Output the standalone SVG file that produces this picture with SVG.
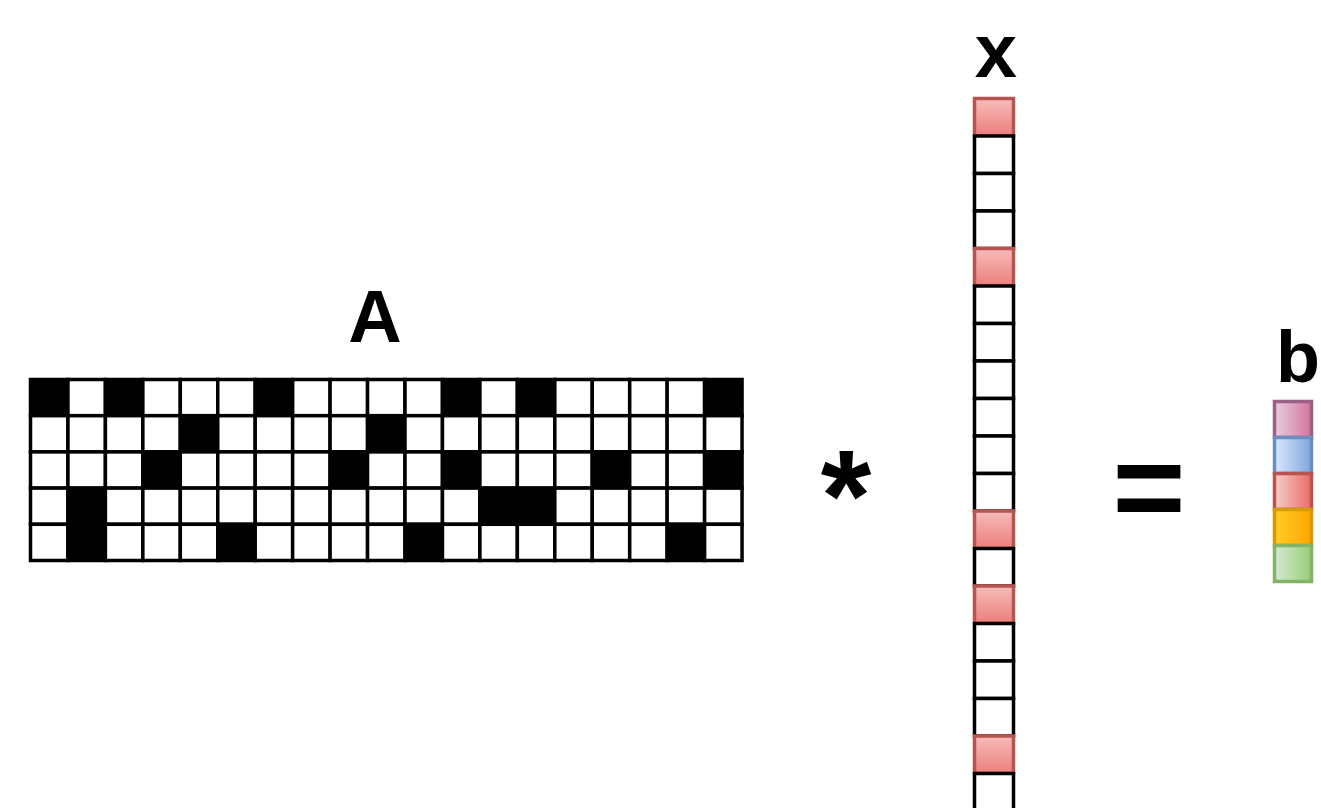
<svg xmlns="http://www.w3.org/2000/svg" width="1321" height="808" viewBox="0 0 1321 808">
<defs>
<style>
.w{fill:#fff;stroke:#000;stroke-width:3.5}
.k{fill:#000;stroke:#000;stroke-width:3.5}
.r{fill:url(#gr);stroke:#b85450;stroke-width:3.5}
.lbl{font-family:"Liberation Sans",Arial,Helvetica,sans-serif;font-weight:bold;fill:#000;text-anchor:middle}
</style>
<linearGradient id="gr" x1="0" y1="0" x2="0" y2="1"><stop offset="0" stop-color="#f6bcba"/><stop offset="1" stop-color="#ec7f7c"/></linearGradient>
<linearGradient id="gp" x1="0" y1="0" x2="1" y2="0"><stop offset="0" stop-color="#e6d0de"/><stop offset="1" stop-color="#d5739d"/></linearGradient>
<linearGradient id="gb" x1="0" y1="0" x2="1" y2="0"><stop offset="0" stop-color="#dae8fc"/><stop offset="1" stop-color="#7ea6e0"/></linearGradient>
<linearGradient id="grr" x1="0" y1="0" x2="1" y2="0"><stop offset="0" stop-color="#f8cecc"/><stop offset="1" stop-color="#ea6b66"/></linearGradient>
<linearGradient id="go" x1="0" y1="0" x2="1" y2="0"><stop offset="0" stop-color="#ffcd28"/><stop offset="1" stop-color="#ffa500"/></linearGradient>
<linearGradient id="gg" x1="0" y1="0" x2="1" y2="0"><stop offset="0" stop-color="#d5e8d4"/><stop offset="1" stop-color="#97d077"/></linearGradient>
</defs>
<rect width="1321" height="808" fill="#fff"/>

<g id="A">
<text class="lbl" x="375" y="342" font-size="74">A</text>
<g transform="translate(0,379.5)">
<rect class="k" x="30.5" y="0" width="37.45" height="36.2"/><rect class="w" x="67.95" y="0" width="37.45" height="36.2"/><rect class="k" x="105.4" y="0" width="37.45" height="36.2"/><rect class="w" x="142.85" y="0" width="37.45" height="36.2"/><rect class="w" x="180.3" y="0" width="37.45" height="36.2"/><rect class="w" x="217.75" y="0" width="37.45" height="36.2"/><rect class="k" x="255.2" y="0" width="37.45" height="36.2"/><rect class="w" x="292.65" y="0" width="37.45" height="36.2"/><rect class="w" x="330.1" y="0" width="37.45" height="36.2"/><rect class="w" x="367.55" y="0" width="37.45" height="36.2"/><rect class="w" x="405" y="0" width="37.45" height="36.2"/><rect class="k" x="442.45" y="0" width="37.45" height="36.2"/><rect class="w" x="479.9" y="0" width="37.45" height="36.2"/><rect class="k" x="517.35" y="0" width="37.45" height="36.2"/><rect class="w" x="554.8" y="0" width="37.45" height="36.2"/><rect class="w" x="592.25" y="0" width="37.45" height="36.2"/><rect class="w" x="629.7" y="0" width="37.45" height="36.2"/><rect class="w" x="667.15" y="0" width="37.45" height="36.2"/><rect class="k" x="704.6" y="0" width="37.45" height="36.2"/>
</g>
<g transform="translate(0,415.7)">
<rect class="w" x="30.5" y="0" width="37.45" height="36.2"/><rect class="w" x="67.95" y="0" width="37.45" height="36.2"/><rect class="w" x="105.4" y="0" width="37.45" height="36.2"/><rect class="w" x="142.85" y="0" width="37.45" height="36.2"/><rect class="k" x="180.3" y="0" width="37.45" height="36.2"/><rect class="w" x="217.75" y="0" width="37.45" height="36.2"/><rect class="w" x="255.2" y="0" width="37.45" height="36.2"/><rect class="w" x="292.65" y="0" width="37.45" height="36.2"/><rect class="w" x="330.1" y="0" width="37.45" height="36.2"/><rect class="k" x="367.55" y="0" width="37.45" height="36.2"/><rect class="w" x="405" y="0" width="37.45" height="36.2"/><rect class="w" x="442.45" y="0" width="37.45" height="36.2"/><rect class="w" x="479.9" y="0" width="37.45" height="36.2"/><rect class="w" x="517.35" y="0" width="37.45" height="36.2"/><rect class="w" x="554.8" y="0" width="37.45" height="36.2"/><rect class="w" x="592.25" y="0" width="37.45" height="36.2"/><rect class="w" x="629.7" y="0" width="37.45" height="36.2"/><rect class="w" x="667.15" y="0" width="37.45" height="36.2"/><rect class="w" x="704.6" y="0" width="37.45" height="36.2"/>
</g>
<g transform="translate(0,451.9)">
<rect class="w" x="30.5" y="0" width="37.45" height="36.2"/><rect class="w" x="67.95" y="0" width="37.45" height="36.2"/><rect class="w" x="105.4" y="0" width="37.45" height="36.2"/><rect class="k" x="142.85" y="0" width="37.45" height="36.2"/><rect class="w" x="180.3" y="0" width="37.45" height="36.2"/><rect class="w" x="217.75" y="0" width="37.45" height="36.2"/><rect class="w" x="255.2" y="0" width="37.45" height="36.2"/><rect class="w" x="292.65" y="0" width="37.45" height="36.2"/><rect class="k" x="330.1" y="0" width="37.45" height="36.2"/><rect class="w" x="367.55" y="0" width="37.45" height="36.2"/><rect class="w" x="405" y="0" width="37.45" height="36.2"/><rect class="k" x="442.45" y="0" width="37.45" height="36.2"/><rect class="w" x="479.9" y="0" width="37.45" height="36.2"/><rect class="w" x="517.35" y="0" width="37.45" height="36.2"/><rect class="w" x="554.8" y="0" width="37.45" height="36.2"/><rect class="k" x="592.25" y="0" width="37.45" height="36.2"/><rect class="w" x="629.7" y="0" width="37.45" height="36.2"/><rect class="w" x="667.15" y="0" width="37.45" height="36.2"/><rect class="k" x="704.6" y="0" width="37.45" height="36.2"/>
</g>
<g transform="translate(0,488.1)">
<rect class="w" x="30.5" y="0" width="37.45" height="36.2"/><rect class="k" x="67.95" y="0" width="37.45" height="36.2"/><rect class="w" x="105.4" y="0" width="37.45" height="36.2"/><rect class="w" x="142.85" y="0" width="37.45" height="36.2"/><rect class="w" x="180.3" y="0" width="37.45" height="36.2"/><rect class="w" x="217.75" y="0" width="37.45" height="36.2"/><rect class="w" x="255.2" y="0" width="37.45" height="36.2"/><rect class="w" x="292.65" y="0" width="37.45" height="36.2"/><rect class="w" x="330.1" y="0" width="37.45" height="36.2"/><rect class="w" x="367.55" y="0" width="37.45" height="36.2"/><rect class="w" x="405" y="0" width="37.45" height="36.2"/><rect class="w" x="442.45" y="0" width="37.45" height="36.2"/><rect class="k" x="479.9" y="0" width="37.45" height="36.2"/><rect class="k" x="517.35" y="0" width="37.45" height="36.2"/><rect class="w" x="554.8" y="0" width="37.45" height="36.2"/><rect class="w" x="592.25" y="0" width="37.45" height="36.2"/><rect class="w" x="629.7" y="0" width="37.45" height="36.2"/><rect class="w" x="667.15" y="0" width="37.45" height="36.2"/><rect class="w" x="704.6" y="0" width="37.45" height="36.2"/>
</g>
<g transform="translate(0,524.3)">
<rect class="w" x="30.5" y="0" width="37.45" height="36.2"/><rect class="k" x="67.95" y="0" width="37.45" height="36.2"/><rect class="w" x="105.4" y="0" width="37.45" height="36.2"/><rect class="w" x="142.85" y="0" width="37.45" height="36.2"/><rect class="w" x="180.3" y="0" width="37.45" height="36.2"/><rect class="k" x="217.75" y="0" width="37.45" height="36.2"/><rect class="w" x="255.2" y="0" width="37.45" height="36.2"/><rect class="w" x="292.65" y="0" width="37.45" height="36.2"/><rect class="w" x="330.1" y="0" width="37.45" height="36.2"/><rect class="w" x="367.55" y="0" width="37.45" height="36.2"/><rect class="k" x="405" y="0" width="37.45" height="36.2"/><rect class="w" x="442.45" y="0" width="37.45" height="36.2"/><rect class="w" x="479.9" y="0" width="37.45" height="36.2"/><rect class="w" x="517.35" y="0" width="37.45" height="36.2"/><rect class="w" x="554.8" y="0" width="37.45" height="36.2"/><rect class="w" x="592.25" y="0" width="37.45" height="36.2"/><rect class="w" x="629.7" y="0" width="37.45" height="36.2"/><rect class="k" x="667.15" y="0" width="37.45" height="36.2"/><rect class="w" x="704.6" y="0" width="37.45" height="36.2"/>
</g>
</g>

<g id="op-mul">
<text class="lbl" x="846" y="541" font-size="130">*</text>
</g>

<g id="x">
<text class="lbl" x="996" y="77" font-size="76">x</text>
<rect class="r" x="974.5" y="98.5" width="39" height="37.5"/>
<rect class="w" x="974.5" y="136" width="39" height="37.5"/>
<rect class="w" x="974.5" y="173.5" width="39" height="37.5"/>
<rect class="w" x="974.5" y="211" width="39" height="37.5"/>
<rect class="r" x="974.5" y="248.5" width="39" height="37.5"/>
<rect class="w" x="974.5" y="286" width="39" height="37.5"/>
<rect class="w" x="974.5" y="323.5" width="39" height="37.5"/>
<rect class="w" x="974.5" y="361" width="39" height="37.5"/>
<rect class="w" x="974.5" y="398.5" width="39" height="37.5"/>
<rect class="w" x="974.5" y="436" width="39" height="37.5"/>
<rect class="w" x="974.5" y="473.5" width="39" height="37.5"/>
<rect class="r" x="974.5" y="511" width="39" height="37.5"/>
<rect class="w" x="974.5" y="548.5" width="39" height="37.5"/>
<rect class="r" x="974.5" y="586" width="39" height="37.5"/>
<rect class="w" x="974.5" y="623.5" width="39" height="37.5"/>
<rect class="w" x="974.5" y="661" width="39" height="37.5"/>
<rect class="w" x="974.5" y="698.5" width="39" height="37.5"/>
<rect class="r" x="974.5" y="736" width="39" height="37.5"/>
<rect class="w" x="974.5" y="773.5" width="39" height="37.5"/>
</g>

<g id="op-eq">
<text class="lbl" x="1149" y="530" font-size="125">=</text>
</g>

<g id="b">
<text class="lbl" x="1298" y="382" font-size="72">b</text>
<rect x="1274.5" y="401.5" width="37" height="36" fill="url(#gp)" stroke="#996185" stroke-width="3.5"/>
<rect x="1274.5" y="437.5" width="37" height="36" fill="url(#gb)" stroke="#6c8ebf" stroke-width="3.5"/>
<rect x="1274.5" y="473.5" width="37" height="36" fill="url(#grr)" stroke="#b85450" stroke-width="3.5"/>
<rect x="1274.5" y="509.5" width="37" height="36" fill="url(#go)" stroke="#d79b00" stroke-width="3.5"/>
<rect x="1274.5" y="545.5" width="37" height="36" fill="url(#gg)" stroke="#82b366" stroke-width="3.5"/>
</g>
</svg>
